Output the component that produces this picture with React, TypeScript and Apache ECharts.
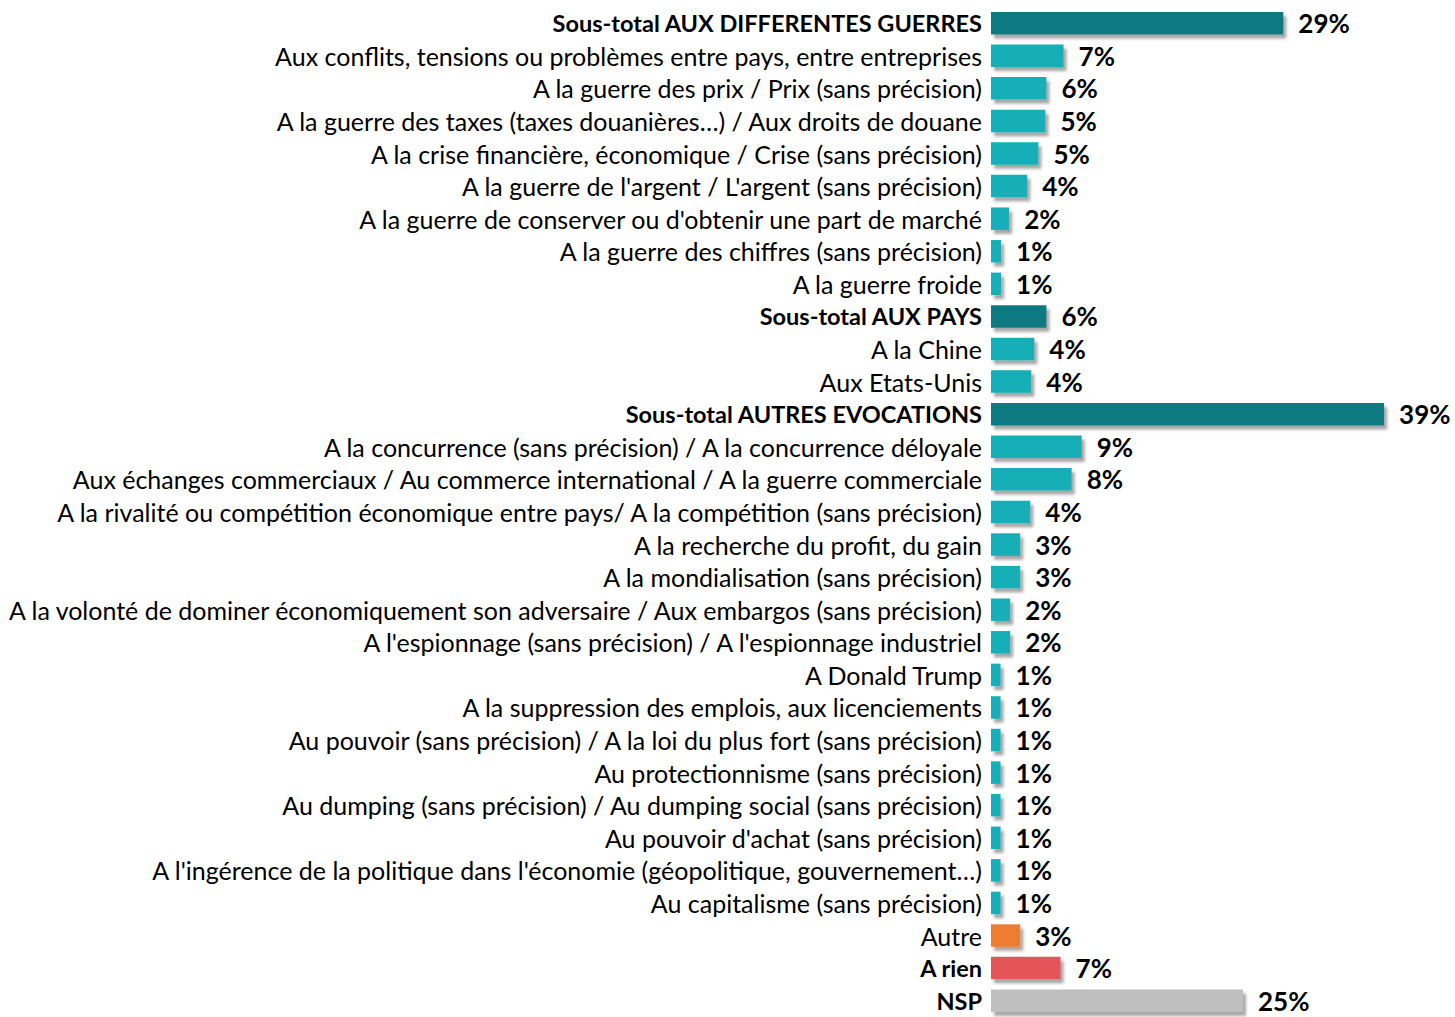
import React, { useEffect, useRef } from "react";
import * as echarts from "echarts";

const categories: string[] = [
  "Sous-total AUX DIFFERENTES GUERRES",
  "Aux conflits, tensions ou problèmes entre pays, entre entreprises",
  "A la guerre des prix / Prix (sans précision)",
  "A la guerre des taxes (taxes douanières…) / Aux droits de douane",
  "A la crise financière, économique / Crise (sans précision)",
  "A la guerre de l'argent / L'argent (sans précision)",
  "A la guerre de conserver ou d'obtenir une part de marché",
  "A la guerre des chiffres (sans précision)",
  "A la guerre froide",
  "Sous-total AUX PAYS",
  "A la Chine",
  "Aux Etats-Unis",
  "Sous-total AUTRES EVOCATIONS",
  "A la concurrence (sans précision) / A la concurrence déloyale",
  "Aux échanges commerciaux / Au commerce international / A la guerre commerciale",
  "A la rivalité ou compétition économique entre pays/ A la compétition (sans précision)",
  "A la recherche du profit, du gain",
  "A la mondialisation (sans précision)",
  "A la volonté de dominer économiquement son adversaire / Aux embargos (sans précision)",
  "A l'espionnage (sans précision) / A l'espionnage industriel",
  "A Donald Trump",
  "A la suppression des emplois, aux licenciements",
  "Au pouvoir (sans précision) / A la loi du plus fort (sans précision)",
  "Au protectionnisme (sans précision)",
  "Au dumping (sans précision) / Au dumping social (sans précision)",
  "Au pouvoir d'achat (sans précision)",
  "A l'ingérence de la politique dans l'économie (géopolitique, gouvernement…)",
  "Au capitalisme (sans précision)",
  "Autre",
  "A rien",
  "NSP",
];

const values: number[] = [
  29.0, 7.2, 5.5, 5.4, 4.7, 3.6, 1.8, 1.0, 1.0,
  5.5, 4.3, 4.0,
  39.0, 9.0, 8.0, 3.9, 2.9, 2.9, 1.9, 1.9, 0.95, 0.95, 0.95, 0.95, 0.95, 0.95, 0.95, 0.95,
  2.9, 6.9, 25.0,
];

const valueLabels: string[] = [
  "29%", "7%", "6%", "5%", "5%", "4%", "2%", "1%", "1%",
  "6%", "4%", "4%",
  "39%", "9%", "8%", "4%", "3%", "3%", "2%", "2%", "1%", "1%", "1%", "1%", "1%", "1%", "1%", "1%",
  "3%", "7%", "25%",
];

// kind of each row: s = subtotal, i = item, o = other, r = nothing, n = NSP
const kinds: string[] = [
  "s", "i", "i", "i", "i", "i", "i", "i", "i",
  "s", "i", "i",
  "s", "i", "i", "i", "i", "i", "i", "i", "i", "i", "i", "i", "i", "i", "i", "i",
  "o", "r", "n",
];

const kindColors: Record<string, string> = {
  s: "#107A81",
  i: "#14AFB8",
  o: "#EE7D31",
  r: "#E35558",
  n: "#BFBFBF",
};

const boldKinds = ["s", "r", "n"];
const FONT = "Lato, 'Liberation Sans', sans-serif";

export default function App() {
  const ref = useRef<HTMLDivElement>(null);
  useEffect(() => {
    if (!ref.current) return;
    const chart = echarts.init(ref.current, null, { renderer: "svg" });
    chart.setOption({
      animation: false,
      grid: { left: 991, top: 6.9, height: 1014.4, width: 453.6, containLabel: false },
      xAxis: { type: "value", min: 0, max: 45, show: false },
      yAxis: {
        type: "category",
        inverse: true,
        data: categories.map((c, i) => {
          const bold = boldKinds.includes(kinds[i]);
          return {
            value: c,
            textStyle: bold ? { fontWeight: "bold", fontSize: 23.5 } : { fontWeight: "normal", fontSize: 25 },
          };
        }),
        axisLine: { show: false },
        axisTick: { show: false },
        splitLine: { show: false },
        axisLabel: { color: "#000", fontSize: 25, fontFamily: FONT, margin: 9, padding: [0, 0, 3, 0] },
      },
      series: [
        {
          type: "bar",
          barWidth: 22.5,
          data: values.map((v, i) => ({
            value: v,
            itemStyle: { color: kindColors[kinds[i]] },
          })),
          itemStyle: {
            shadowColor: "rgba(0,0,0,0.35)",
            shadowBlur: 3,
            shadowOffsetX: 3,
            shadowOffsetY: 4,
          },
          label: {
            show: true,
            position: "right",
            distance: 15,
            formatter: (p: any) => valueLabels[p.dataIndex],
            color: "#000",
            fontWeight: "bold",
            fontSize: 26,
            fontFamily: FONT,
          },
        },
      ],
    });
    return () => chart.dispose();
  }, []);
  return (
    <div
      ref={ref}
      style={{ position: "absolute", left: 0, top: 0, width: 1455, height: 1017, background: "#fff" }}
    />
  );
}
